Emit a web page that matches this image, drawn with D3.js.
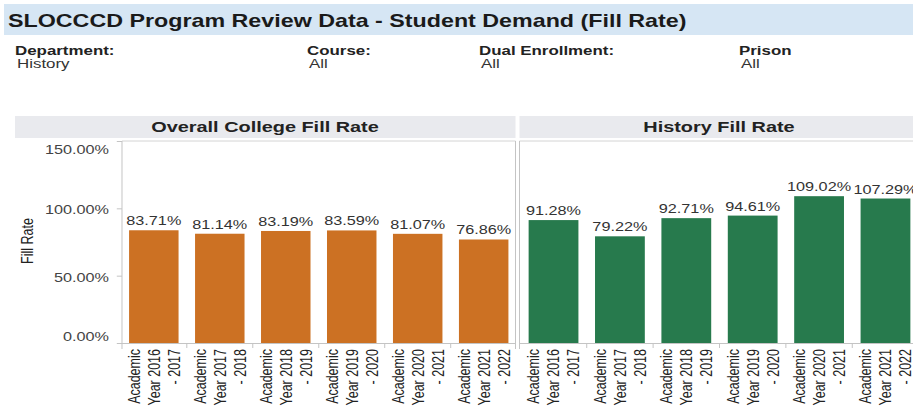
<!DOCTYPE html>
<meta charset="utf-8">
<style>

body { margin: 0; background: #fff; }
svg { display: block; font-family: "Liberation Sans", Arial, sans-serif; }
line, path { vector-effect: non-scaling-stroke; }

</style>
<svg width="913" height="408"></svg>
<script src="https://d3js.org/d3.v7.min.js"></script>
<script>

// data
var years = ["Academic Year 2016 - 2017", "Academic Year 2017 - 2018", "Academic Year 2018 - 2019",
             "Academic Year 2019 - 2020", "Academic Year 2020 - 2021", "Academic Year 2021 - 2022"];
var collegeRate = [83.71, 81.14, 83.19, 83.59, 81.07, 76.86];
var historyRate = [91.28, 79.22, 92.71, 94.61, 109.02, 107.29];
var yTicks = [0, 50, 100, 150];
var filterNames = ["Department:", "Course:", "Dual Enrollment:", "Prison"];
var filterValues = ["History", "All", "All", "All"];
var panelTitles = ["Overall College Fill Rate", "History Fill Rate"];

// the picture is stretched sideways, so draw in a squeezed frame and scale it back out
var SX = 1.3;
function X(px) { return px / SX; }

var svg = d3.select("svg"),
    root = svg.append("g").attr("transform", "scale(" + SX + ",1)");

// title band
root.append("rect")
    .attr("x", X(4)).attr("y", 4)
    .attr("width", X(913)).attr("height", 31)
    .attr("fill", "#d6e6f4");
root.append("text")
    .attr("x", X(8)).attr("y", 27)
    .attr("font-size", 17.9).attr("font-weight", "bold")
    .attr("fill", "#1a1a1a")
    .text("SLOCCCD Program Review Data - Student Demand (Fill Rate)");

// filters
var filterX = [15, 307, 479, 739];
filterNames.forEach(function(n, i) {
  root.append("text")
      .attr("x", X(filterX[i])).attr("y", 55)
      .attr("font-size", 13).attr("font-weight", "bold").attr("fill", "#222")
      .text(n);
  root.append("text")
      .attr("x", X(filterX[i] + 2)).attr("y", 68)
      .attr("font-size", 13).attr("fill", "#333")
      .text(filterValues[i]);
});

var y = d3.scaleLinear().domain([0, 150]).range([343, 141]);

var panels = [
  { title: panelTitles[0], values: collegeRate, color: "#cc7123", head: [15, 515.5], range: [120.5, 517], border: [122, 515.5] },
  { title: panelTitles[1], values: historyRate, color: "#277a4d", head: [519.5, 913], range: [520, 919], border: [519.5, 930] }
];

panels.forEach(function(p, pi) {
  var g = root.append("g");

  g.append("rect")
      .attr("x", X(p.head[0])).attr("y", 116)
      .attr("width", X(p.head[1] - p.head[0])).attr("height", 22)
      .attr("fill", "#e9eaee");
  g.append("text")
      .attr("x", X(pi === 0 ? 265 : 719)).attr("y", 132.5)
      .attr("text-anchor", "middle")
      .attr("font-size", 15.3).attr("font-weight", "bold").attr("fill", "#222")
      .text(p.title);

  var x = d3.scaleBand()
      .domain(years)
      .range([X(p.range[0]), X(p.range[1])])
      .paddingInner(0.25)
      .paddingOuter(0.13);

  // frame
  var bx0 = X(p.border[0]), bx1 = X(p.border[1]);
  g.append("line").attr("x1", bx0).attr("x2", bx1).attr("y1", 141).attr("y2", 141)
      .attr("stroke", "#d4d4d4");
  g.append("line").attr("x1", bx0).attr("x2", bx1).attr("y1", 343.5).attr("y2", 343.5)
      .attr("stroke", "#c4c4c4");
  g.append("line").attr("x1", bx0).attr("x2", bx0).attr("y1", 141).attr("y2", 349)
      .attr("stroke", "#c4c4c4");
  if (pi === 0) {
    g.append("line").attr("x1", bx1).attr("x2", bx1).attr("y1", 141).attr("y2", 349)
        .attr("stroke", "#c4c4c4");
  }

  // band boundary ticks
  var step = x.step();
  g.selectAll(".sep")
    .data(years.slice(1))
    .enter().append("line")
      .attr("class", "sep")
      .attr("x1", function(d) { return x(d) + x.bandwidth() / 2 - step / 2; })
      .attr("x2", function(d) { return x(d) + x.bandwidth() / 2 - step / 2; })
      .attr("y1", 343.5).attr("y2", 348)
      .attr("stroke", "#c4c4c4");

  g.selectAll(".bar")
    .data(p.values)
    .enter().append("rect")
      .attr("class", "bar")
      .attr("x", function(d, i) { return x(years[i]); })
      .attr("y", function(d) { return y(d); })
      .attr("width", x.bandwidth())
      .attr("height", function(d) { return y(0) - y(d); })
      .attr("fill", p.color);

  g.selectAll(".val")
    .data(p.values)
    .enter().append("text")
      .attr("class", "val")
      .attr("x", function(d, i) { return x(years[i]) + x.bandwidth() / 2; })
      .attr("y", function(d) { return y(d) - 5; })
      .attr("text-anchor", "middle")
      .attr("font-size", 12.5).attr("fill", "#333")
      .text(function(d) { return d3.format(".2f")(d) + "%"; });

  // category labels, three lines each, rotated
  var lab = g.selectAll(".cat")
    .data(years)
    .enter().append("text")
      .attr("class", "cat")
      .attr("transform", function(d) { return "translate(" + (x(d) + x.bandwidth() / 2) + ",349) rotate(-90)"; })
      .attr("text-anchor", "end")
      .attr("font-size", 12.5).attr("fill", "#222");
  lab.each(function(d) {
    var w = d.split(" "),
        lines = [w[0], w[1] + " " + w[2], w[3] + " " + w[4]],
        t = d3.select(this);
    lines.forEach(function(l, k) {
      t.append("tspan")
          .attr("x", 0)
          .attr("y", ((k - 1) * 1.23 + 0.36) + "em")
          .text(l);
    });
  });
});

// y axis on the left panel
var yAxis = root.append("g")
    .attr("transform", "translate(" + X(122) + ",0)")
    .call(d3.axisLeft(y)
      .tickValues(yTicks)
      .tickSize(4)
      .tickSizeOuter(0)
      .tickPadding(6)
      .tickFormat(function(d) { return d3.format(".2f")(d) + "%"; }));
yAxis.select(".domain").remove();
yAxis.selectAll(".tick line").attr("stroke", "#c4c4c4");
yAxis.selectAll(".tick text")
    .attr("font-family", null)
    .attr("font-size", 12.5)
    .attr("fill", "#444")
    .attr("dy", function(d) { return d === 150 ? "1.0em" : d === 0 ? "-0.2em" : "0.45em"; });

root.append("text")
    .attr("transform", "translate(" + X(33) + ",241) rotate(-90)")
    .attr("text-anchor", "middle")
    .attr("font-size", 12.5).attr("fill", "#222")
    .text("Fill Rate");

</script>
